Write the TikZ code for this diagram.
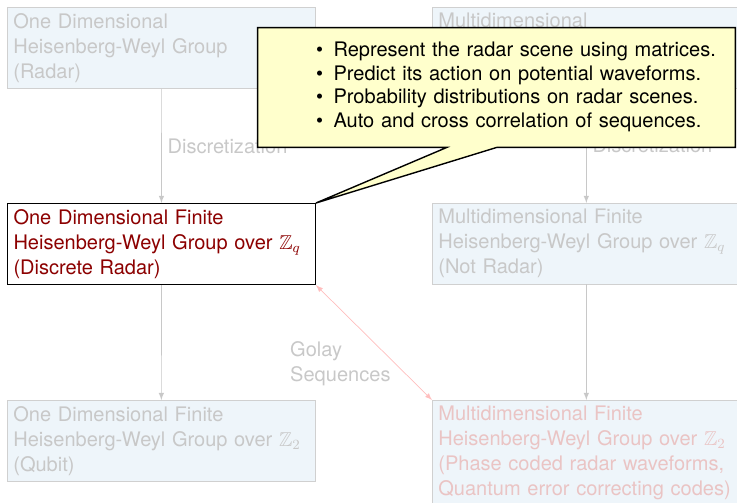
\documentclass[tikz,border=0pt]{standalone}
\usepackage{amssymb}
\usepackage{fontspec}
\setmainfont{TeX Gyre Heros}
\usetikzlibrary{arrows,%
                calc}

\definecolor{boxfill}{RGB}{238,245,250}
\definecolor{boxline}{RGB}{208,208,208}
\definecolor{fadetext}{RGB}{200,200,200}
\definecolor{fadered}{RGB}{234,196,196}
\definecolor{linkred}{RGB}{255,190,190}
\definecolor{focusred}{RGB}{140,0,0}
\definecolor{notefill}{RGB}{255,255,204}

\tikzset{
  group/.style={draw=boxline,fill=boxfill,text=fadetext,anchor=north west,
                text width=5.92cm,align=left,inner xsep=0.12cm,inner ysep=0.12cm,
                font=\fontsize{11.4}{14.2}\selectfont},
  focus/.style={group,draw=black,fill=white,text=focusred,line width=0.6pt},
  flow/.style={draw=fadetext,-latex},
  lbl/.style={text=fadetext,font=\fontsize{11.4}{14.2}\selectfont},
  notebox/.style={minimum width=9.54cm,minimum height=2.38cm,inner sep=0pt}
}

\begin{document}
\begin{tikzpicture}[x=0.02cm,y=-0.02cm]
  \clip (0,0) rectangle (737,503);

  % left column
  \node[group] (tl) at (7,7)     {One Dimensional\\Heisenberg-Weyl Group\\(Radar)};
  \node[focus] (ml) at (7,203)   {One Dimensional Finite\\Heisenberg-Weyl Group over $\mathbb{Z}_q$\\(Discrete Radar)};
  \node[group] (bl) at (7,400)   {One Dimensional Finite\\Heisenberg-Weyl Group over $\mathbb{Z}_2$\\(Qubit)};
  % right column
  \node[group,text depth=1.08cm] (tr) at (432,7) {Multidimensional};
  \node[group] (mr) at (432,203) {Multidimensional Finite\\Heisenberg-Weyl Group over $\mathbb{Z}_q$\\(Not Radar)};
  \node[group,text=fadered] (br) at (432,400) {Multidimensional Finite\\Heisenberg-Weyl Group over $\mathbb{Z}_2$\\(Phase coded radar waveforms,\\Quantum error correcting codes)};

  \draw[flow] (tl) -- node[lbl,right] (d1) {Discretization} (ml);
  \draw[flow] (tr) -- node[lbl,right] (d2) {Discretization} (mr);
  \draw[flow] (ml) -- (bl);
  \draw[flow] (mr) -- (br);

  \draw[draw=linkred,latex-latex] (ml.south east) -- (br.north west);
  \node[lbl,align=left,anchor=west] (golay) at (284,364) {Golay\\Sequences};

  % note box pointing at the discrete radar group
  \path node[notebox] (note) at (496.5,87.5) {};
  \path[draw=black,fill=notefill,line width=0.8pt]
    (note.north west) -- (note.north east) -- (note.south east)
    -- ($(note.south)+(0.5,0)$) -- (ml.north east) -- ($(note.south)+(-49.5,0)$)
    -- (note.south west) -- cycle;
  \node[notebox,text width=9.54cm,align=left,
        font=\fontsize{11.4}{13.4}\selectfont] (notetext) at (note.center)
    {\hspace*{1.16cm}\begin{tabular}{@{}l@{\hspace{0.21cm}}l@{}}
      \textbullet & Represent the radar scene using matrices.\\
      \textbullet & Predict its action on potential waveforms.\\
      \textbullet & Probability distributions on radar scenes.\\
      \textbullet & Auto and cross correlation of sequences.
    \end{tabular}};
\end{tikzpicture}
\end{document}
